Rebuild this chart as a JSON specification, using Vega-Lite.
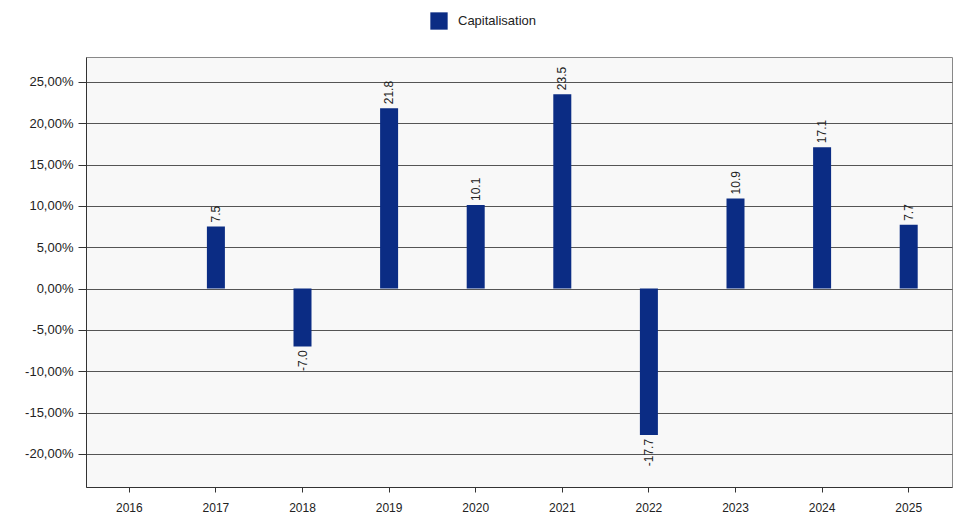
{
  "$schema": "https://vega.github.io/schema/vega-lite/v6.json",
  "width": 866,
  "height": 430,
  "autosize": {"type": "none"},
  "padding": {"left": 86, "top": 57, "right": 1, "bottom": 31},
  "background": "white",
  "config": {
    "view": {"stroke": "#888888", "fill": "#f8f8f8"},
    "font": "Liberation Sans",
    "locale": {"number": {"decimal": ".", "thousands": ",", "grouping": [3], "currency": ["$", ""], "minus": "-"}}
  },
  "data": {
    "values": [
      {"year": "2016", "value": 0.0, "series": "Capitalisation"},
      {"year": "2017", "value": 7.5, "series": "Capitalisation"},
      {"year": "2018", "value": -7.0, "series": "Capitalisation"},
      {"year": "2019", "value": 21.8, "series": "Capitalisation"},
      {"year": "2020", "value": 10.1, "series": "Capitalisation"},
      {"year": "2021", "value": 23.5, "series": "Capitalisation"},
      {"year": "2022", "value": -17.7, "series": "Capitalisation"},
      {"year": "2023", "value": 10.9, "series": "Capitalisation"},
      {"year": "2024", "value": 17.1, "series": "Capitalisation"},
      {"year": "2025", "value": 7.7, "series": "Capitalisation"}
    ]
  },
  "encoding": {
    "x": {
      "field": "year",
      "type": "nominal",
      "sort": null,
      "scale": {"paddingInner": 0, "paddingOuter": 0},
      "axis": {
        "title": null,
        "labelAngle": 0,
        "labelFontSize": 12,
        "labelColor": "#222222",
        "labelPadding": 10,
        "tickSize": 5,
        "tickColor": "#333333",
        "domainColor": "#333333",
        "grid": false
      }
    },
    "y": {
      "field": "value",
      "type": "quantitative",
      "scale": {"domain": [-24, 28], "nice": false, "zero": false},
      "axis": {
        "title": null,
        "values": [-20, -15, -10, -5, 0, 5, 10, 15, 20, 25],
        "labelExpr": "replace(format(datum.value, '.2f'), '.', ',') + '%'",
        "labelFontSize": 13,
        "labelColor": "#222222",
        "labelPadding": 5,
        "tickSize": 8,
        "tickColor": "#333333",
        "domainColor": "#333333",
        "grid": true,
        "gridColor": "#555555",
        "gridWidth": 1,
        "gridOpacity": 1
      }
    }
  },
  "layer": [
    {
      "mark": {"type": "bar", "width": 18},
      "encoding": {
        "y2": {"datum": 0},
        "color": {
          "field": "series",
          "type": "nominal",
          "scale": {"range": ["#0b2c84"]},
          "legend": {
            "title": null,
            "orient": "none",
            "legendX": 344,
            "legendY": -45,
            "direction": "horizontal",
            "symbolType": "square",
            "symbolSize": 300,
            "symbolStrokeWidth": 0,
            "labelFontSize": 13,
            "labelFont": "Liberation Sans",
            "labelColor": "#222222",
            "labelOffset": 10
          }
        }
      }
    },
    {
      "transform": [{"filter": "datum.value > 0"}],
      "mark": {"type": "text", "angle": 270, "align": "left", "baseline": "middle", "dx": 4, "fontSize": 12, "color": "#222222"},
      "encoding": {
        "text": {"field": "value", "type": "quantitative", "format": ".1f"}
      }
    },
    {
      "transform": [{"filter": "datum.value < 0"}],
      "mark": {"type": "text", "angle": 270, "align": "right", "baseline": "middle", "dx": -4, "fontSize": 12, "color": "#222222"},
      "encoding": {
        "text": {"field": "value", "type": "quantitative", "format": ".1f"}
      }
    }
  ]
}
